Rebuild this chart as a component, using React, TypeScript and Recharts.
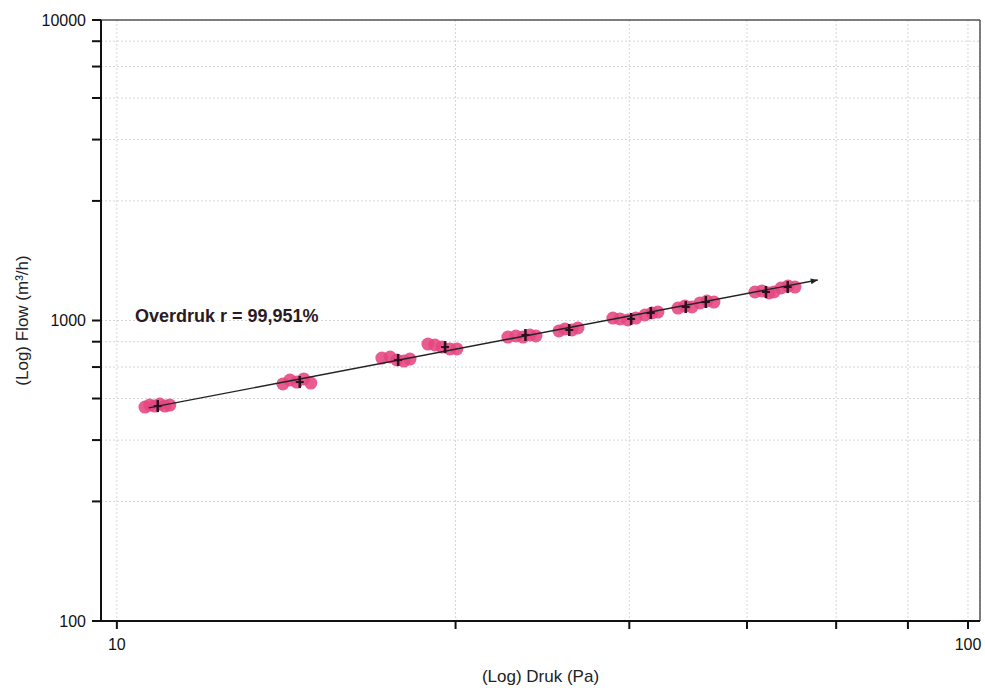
import {
  ScatterChart, Scatter, XAxis, YAxis, CartesianGrid, ReferenceLine, ReferenceDot,
} from "recharts";

// druk (Pa) / flow (m3/h) readings
const measuredPoints = [
  { x: 10.79, y: 515 }, { x: 10.93, y: 523 }, { x: 11.08, y: 519 }, { x: 11.23, y: 527 }, { x: 11.39, y: 519 }, { x: 11.54, y: 523 },
  { x: 15.67, y: 615 }, { x: 15.97, y: 634 }, { x: 16.27, y: 624 }, { x: 16.58, y: 639 }, { x: 16.9, y: 619 },
  { x: 20.48, y: 750 }, { x: 20.94, y: 756 }, { x: 21.33, y: 739 }, { x: 21.74, y: 733 }, { x: 22.1, y: 744 },
  { x: 23.2, y: 835 }, { x: 23.64, y: 829 }, { x: 24.1, y: 816 }, { x: 24.62, y: 804 }, { x: 25.09, y: 804 },
  { x: 28.8, y: 881 }, { x: 29.43, y: 888 }, { x: 30.0, y: 881 }, { x: 30.57, y: 895 }, { x: 31.07, y: 888 },
  { x: 33.07, y: 923 }, { x: 33.61, y: 937 }, { x: 34.25, y: 930 }, { x: 34.81, y: 944 },
  { x: 38.26, y: 1019 }, { x: 39.0, y: 1012 }, { x: 39.85, y: 1004 }, { x: 40.72, y: 1019 },
  { x: 41.73, y: 1043 }, { x: 42.53, y: 1059 }, { x: 43.22, y: 1067 },
  { x: 45.63, y: 1100 }, { x: 46.5, y: 1117 }, { x: 47.39, y: 1109 },
  { x: 48.43, y: 1144 }, { x: 49.35, y: 1161 }, { x: 50.29, y: 1152 },
  { x: 56.19, y: 1244 }, { x: 57.27, y: 1254 }, { x: 58.37, y: 1235 }, { x: 59.16, y: 1244 },
  { x: 60.3, y: 1283 }, { x: 61.45, y: 1302 }, { x: 62.62, y: 1292 },
];

const meanPoints = [
  { x: 11.17, y: 519 }, { x: 16.4, y: 624 }, { x: 21.4, y: 739 }, { x: 24.3, y: 816 },
  { x: 30.2, y: 895 }, { x: 34.0, y: 930 }, { x: 40.2, y: 1012 }, { x: 42.4, y: 1059 },
  { x: 46.6, y: 1109 }, { x: 49.2, y: 1152 }, { x: 57.9, y: 1244 }, { x: 61.4, y: 1292 },
];

const fitLine = [{ x: 10.9, y: 512 }, { x: 66.6, y: 1364 }];

const xTicks = [10, 25, 40, 55, 70, 85, 100];
const yTicks = [100, 250, 400, 550, 700, 850, 1000, 2500, 4000, 5500, 7000, 8500, 10000];
const xLabeled = [10, 100];
const yLabeled = [100, 1000, 10000];

const xDomain: [number, number] = [9.58, 103.3];
const yDomain: [number, number] = [100, 10000];

const fitLabel = "Overdruk r = 99,951%";

const font = "'Liberation Sans', Arial, sans-serif";

const PinkDot = (p: any) => (
  <circle cx={p.cx} cy={p.cy} r={6.5} fill="#e5457f" fillOpacity={0.88} />
);

const MeanCross = (p: any) => (
  <g stroke="#2a1020">
    <line x1={p.cx} y1={p.cy - 6} x2={p.cx} y2={p.cy + 6} strokeWidth={2.5} />
    <line x1={p.cx - 4} y1={p.cy} x2={p.cx + 4} y2={p.cy} strokeWidth={2} />
  </g>
);

const ArrowEnd = (p: any) => {
  if (!p.payload || p.payload.x !== fitLine[fitLine.length - 1].x) return <g />;
  return (
    <polygon
      points="0,0 -7,-3 -7,3"
      fill="#222"
      transform={`translate(${p.cx},${p.cy}) rotate(-11)`}
    />
  );
};

export default function App() {
  return (
    <div style={{ position: "absolute", left: 0, top: 0, background: "#fff" }}>
      <ScatterChart
        width={985}
        height={688}
        margin={{ top: 20, right: 5, bottom: 0, left: 0 }}
        style={{ fontFamily: font }}
      >
        <CartesianGrid stroke="#d6d6d6" strokeDasharray="2 2" />
        <XAxis
          type="number"
          dataKey="x"
          scale="log"
          domain={xDomain}
          allowDataOverflow
          ticks={xTicks}
          interval={0}
          tickFormatter={(v) => (xLabeled.includes(v) ? String(v) : "")}
          height={67}
          tickSize={8}
          tickMargin={10}
          stroke="#111"
          strokeWidth={2}
          tick={{ fontSize: 16, fill: "#111" }}
          label={{ value: "(Log) Druk (Pa)", position: "insideBottom", offset: 6, fontSize: 17, fill: "#222" }}
        />
        <YAxis
          type="number"
          dataKey="y"
          scale="log"
          domain={yDomain}
          allowDataOverflow
          ticks={yTicks}
          interval={0}
          tickFormatter={(v) => (yLabeled.includes(v) ? String(v) : "")}
          width={101}
          tickSize={9}
          tickMargin={6}
          stroke="#111"
          strokeWidth={2}
          tick={{ fontSize: 16, fill: "#111" }}
          label={{
            value: "(Log) Flow (m³/h)",
            angle: -90,
            position: "insideLeft",
            offset: 22,
            fontSize: 17,
            fill: "#222",
            style: { textAnchor: "middle" },
          }}
        />
        <ReferenceLine y={10000} stroke="#555" strokeWidth={1.5} />
        <ReferenceLine x={xDomain[1]} stroke="#555" strokeWidth={1.5} />
        <Scatter data={measuredPoints} shape={PinkDot} isAnimationActive={false} />
        <Scatter
          data={fitLine}
          line={{ stroke: "#222", strokeWidth: 1.4 }}
          shape={ArrowEnd}
          isAnimationActive={false}
        />
        <Scatter data={meanPoints} shape={MeanCross} isAnimationActive={false} />
        <ReferenceDot
          x={10.5}
          y={1035}
          r={0}
          fill="none"
          stroke="none"
          label={(props: any) => {
            const vb = props.viewBox || {};
            const cx = vb.cx ?? vb.x ?? 0;
            const cy = vb.cy ?? vb.y ?? 0;
            return (
              <text x={cx} y={cy} dominantBaseline="central" fontSize={18} fontWeight="bold" fill="#2a1a22" fontFamily={font}>
                {fitLabel}
              </text>
            );
          }}
        />
      </ScatterChart>
    </div>
  );
}
